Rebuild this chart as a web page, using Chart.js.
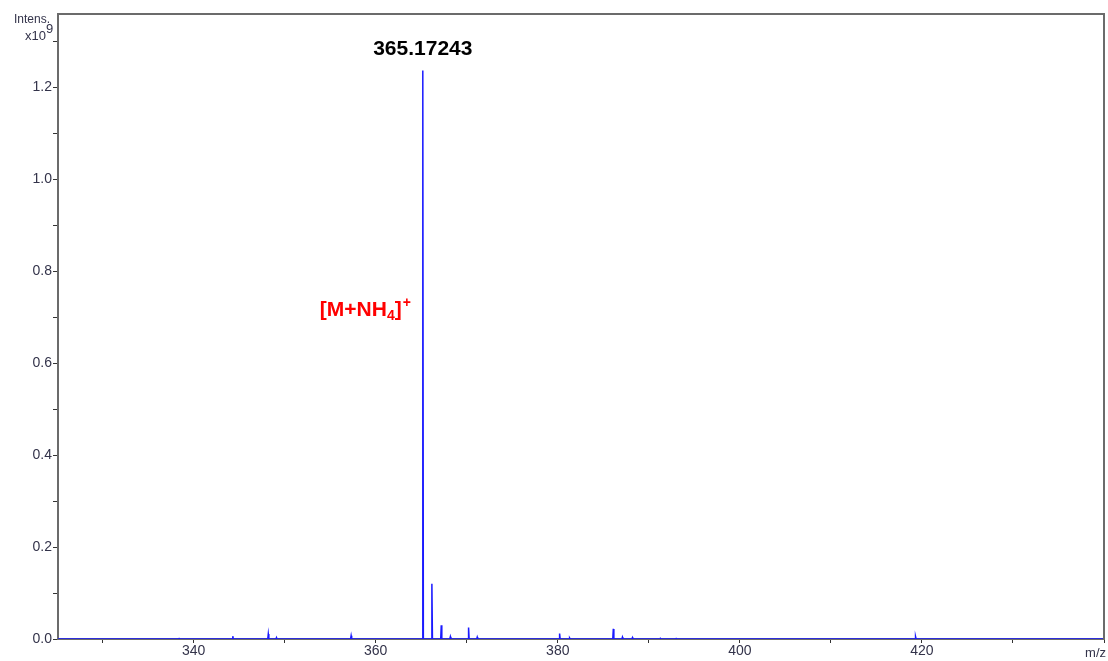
<!DOCTYPE html>
<html>
<head>
<meta charset="utf-8">
<script src="https://cdn.jsdelivr.net/npm/chart.js@4/dist/chart.umd.min.js"></script>
<style>
  html, body { margin: 0; padding: 0; background: #fff; }
  #wrap { width: 1108px; height: 661px; position: relative; }
</style>
</head>
<body>
<div id="wrap"><canvas id="spectrum"></canvas></div>
<script>
// peak list (m/z, intensity in 1e9 counts)
const peakMz = [338.4, 344.3, 348.2, 349.1, 357.3, 365.17243, 366.17, 367.2, 368.2, 370.2, 371.15, 380.2, 381.3, 386.1, 387.1, 388.2, 391.3, 393.0, 419.3];
const peakIntensity = [0.001, 0.006, 0.011, 0.003, 0.007, 1.237, 0.12, 0.03, 0.005, 0.025, 0.004, 0.012, 0.002, 0.022, 0.004, 0.003, 0.001, 0.001, 0.005];
const xRange = [325.1, 440];
const yRange = [0, 1.36];
const basePeakLabel = '365.17243';

// stick spectrum: baseline, up to the apex, back down
function buildSticks() {
    const pts = [{ x: xRange[0], y: 0 }];
    peakMz.forEach((mz, i) => {
        pts.push({ x: mz - 0.06, y: 0 });
        pts.push({ x: mz, y: peakIntensity[i] });
        pts.push({ x: mz + 0.06, y: 0 });
    });
    pts.push({ x: xRange[1], y: 0 });
    return pts;
}

const labelColor = '#33334a';
const fontFamily = '"Liberation Sans", Arial, sans-serif';

const annotations = {
    id: 'annotations',
    afterDraw(chart) {
        const { ctx, chartArea, scales } = chart;
        ctx.save();

        // frame top/right
        ctx.strokeStyle = '#6b6b6b';
        ctx.lineWidth = 2;
        ctx.beginPath();
        ctx.moveTo(chartArea.left, chartArea.top);
        ctx.lineTo(chartArea.right, chartArea.top);
        ctx.lineTo(chartArea.right, chartArea.bottom);
        ctx.stroke();

        // base peak label
        const i = peakMz.indexOf(365.17243);
        const px = scales.x.getPixelForValue(peakMz[i]);
        const py = scales.y.getPixelForValue(peakIntensity[i]);
        ctx.fillStyle = '#000';
        ctx.font = 'bold 21px ' + fontFamily;
        ctx.textAlign = 'center';
        ctx.textBaseline = 'alphabetic';
        ctx.fillText(basePeakLabel, px, py - 16);

        // [M+NH4]+ label
        ctx.fillStyle = '#ff0000';
        ctx.textAlign = 'left';
        let x = px - 103;
        const y = 316;
        const big = 'bold 21px ' + fontFamily;
        const small = 'bold 14px ' + fontFamily;
        ctx.font = big;
        ctx.fillText('[M+NH', x, y);
        x += ctx.measureText('[M+NH').width;
        ctx.font = small;
        ctx.fillText('4', x, y + 4);
        x += ctx.measureText('4').width;
        ctx.font = big;
        ctx.fillText(']', x, y);
        x += ctx.measureText(']').width + 1;
        ctx.font = small;
        ctx.fillText('+', x, y - 9);

        // axis titles
        ctx.fillStyle = labelColor;
        ctx.font = '12px ' + fontFamily;
        ctx.textAlign = 'right';
        ctx.fillText('Intens.', 50, 23);
        ctx.font = '13px ' + fontFamily;
        ctx.fillText('x10', 46, 40);
        ctx.textAlign = 'left';
        ctx.fillText('9', 46, 33);

        ctx.textAlign = 'right';
        ctx.font = '13px ' + fontFamily;
        ctx.fillText('m/z', chartArea.right + 2, 657);
        ctx.restore();
    }
};

new Chart(document.getElementById('spectrum'), {
    type: 'line',
    data: {
        datasets: [{
            data: buildSticks(),
            borderColor: '#1a1aff',
            borderWidth: 1.5,
            pointRadius: 0,
            tension: 0,
            fill: false
        }]
    },
    options: {
        responsive: true,
        maintainAspectRatio: false,
        animation: false,
        layout: { padding: { left: 0, right: 4, top: 14, bottom: 0 } },
        plugins: {
            legend: { display: false },
            tooltip: { enabled: false }
        },
        scales: {
            x: {
                type: 'linear',
                min: xRange[0],
                max: xRange[1],
                afterFit: s => { s.height = 22; },
                border: { color: '#6b6b6b', width: 2 },
                grid: { drawOnChartArea: false, tickLength: 4, color: '#333' },
                ticks: {
                    stepSize: 10,
                    includeBounds: false,
                    maxRotation: 0,
                    autoSkip: false,
                    padding: 0,
                    color: labelColor,
                    font: { family: fontFamily, size: 14 },
                    callback: v => (Math.round(v) % 20 === 0 && Math.round(v) < 440 ? String(Math.round(v)) : '')
                }
            },
            y: {
                min: yRange[0],
                max: yRange[1],
                afterFit: s => { s.width = 58; },
                border: { color: '#6b6b6b', width: 2 },
                grid: { drawOnChartArea: false, tickLength: 5, color: '#333' },
                ticks: {
                    stepSize: 0.1,
                    includeBounds: false,
                    autoSkip: false,
                    padding: 1,
                    color: labelColor,
                    font: { family: fontFamily, size: 14 },
                    callback: v => {
                        const k = Math.round(v * 10);
                        return k % 2 === 0 ? (k / 10).toFixed(1) : '';
                    }
                }
            }
        }
    },
    plugins: [annotations]
});
</script>
</body>
</html>
